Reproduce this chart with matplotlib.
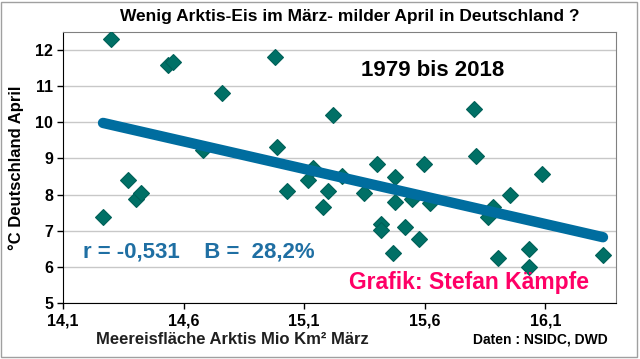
import numpy as np
import matplotlib
matplotlib.use("Agg")
import matplotlib.pyplot as plt
from matplotlib.patches import Rectangle
from matplotlib.ticker import FuncFormatter

plt.rcParams['font.family'] = ['Liberation Sans', 'DejaVu Sans']

# Arctic sea ice extent March (Mio km²)
ice = [14.266, 14.299, 14.369, 14.403, 14.423, 14.535, 14.556, 14.759, 14.680, 14.979,
       14.987, 15.029, 15.137, 15.116, 15.199, 15.178, 15.257, 15.219, 15.348, 15.402,
       15.477, 15.597, 15.477, 15.547, 15.622, 15.418, 15.418, 15.518, 15.576, 15.468,
       15.804, 15.812, 15.953, 15.883, 15.862, 15.903, 16.032, 16.032, 16.086, 16.339]
# April temperature Germany (°C)
temp = [7.38, 12.31, 8.40, 7.88, 8.04, 11.57, 11.65, 10.80, 9.23, 11.81,
        9.33, 8.09, 8.73, 8.42, 8.09, 7.65, 8.53, 10.20, 8.06, 8.85,
        8.49, 8.85, 7.79, 7.88, 7.77, 7.19, 7.02, 7.10, 6.77, 6.38,
        10.38, 9.07, 7.99, 7.66, 7.38, 6.25, 6.50, 6.00, 8.56, 6.33]

xticks = [14.1, 14.6, 15.1, 15.6, 16.1]
yticks = [5, 6, 7, 8, 9, 10, 11, 12]

W, H = 640, 359
fig = plt.figure(figsize=(W / 100, H / 100), dpi=100)
ax = fig.add_axes([63 / W, 1 - 303.4 / H, (616 - 63) / W, (303.4 - 31.7) / H])

ax.set_xlim(14.1, 16.393)
ax.set_ylim(5, 12.5)
ax.set_xticks(xticks)
ax.set_yticks(yticks)
ax.xaxis.set_major_formatter(FuncFormatter(lambda v, p: f"{v:.1f}".replace('.', ',')))
ax.yaxis.set_major_formatter(FuncFormatter(lambda v, p: f"{int(v)}"))
ax.grid(axis='y', color='#c8c8c8', linewidth=1)
ax.set_axisbelow(True)
ax.tick_params(direction='out', length=4, width=1, labelsize=11.5, pad=3)
for lab in ax.get_xticklabels() + ax.get_yticklabels():
    lab.set_fontweight('bold')
for s in ['left', 'bottom']:
    ax.spines[s].set_color('black')
for s in ['top', 'right']:
    ax.spines[s].set_color('#808080')

ax.plot(ice, temp, linestyle='none', marker='D', markersize=8.5,
        markerfacecolor='#007066', markeredgecolor='#006058', markeredgewidth=0.8, zorder=3)

xa = np.array(ice)
ya = np.array(temp)
k, d = np.polyfit(xa, ya, 1)
xs = np.array([xa.min(), xa.max()])
ax.plot(xs, k * xs + d, color='#006D9F', linewidth=7.5, solid_capstyle='round', zorder=4)

fig.text(350 / W, 1 - 17 / H, "Wenig Arktis-Eis im März- milder April in Deutschland ?",
         ha='center', va='center', fontsize=12.5, fontweight='bold')
fig.text(433 / W, 1 - 70 / H, "1979 bis 2018", ha='center', va='center',
         fontsize=16, fontweight='bold')
fig.text(83 / W, 1 - 252 / H, "r = -0,531    B =  28,2%", ha='left', va='center',
         fontsize=16, fontweight='bold', color='#1F6FA3')
fig.text(469 / W, 1 - 283 / H, "Grafik: Stefan Kämpfe", ha='center', va='center',
         fontsize=16.5, fontweight='bold', color='#FF0066')
fig.text(232 / W, 1 - 340 / H, "Meereisfläche Arktis Mio Km² März", ha='center', va='center',
         fontsize=12, fontweight='bold', color='#202020')
fig.text(540 / W, 1 - 340 / H, "Daten : NSIDC, DWD", ha='center', va='center',
         fontsize=10, fontweight='bold')
fig.text(16 / W, 1 - 168 / H, "°C Deutschland April", ha='center', va='center',
         rotation=90, fontsize=12, fontweight='bold')

fig.patches.append(Rectangle((1 / W, 2 / H), (W - 4) / W, (H - 4) / H, transform=fig.transFigure,
                             fill=False, edgecolor='#a0a0a0', linewidth=1))

fig.savefig("out.png", dpi=100)
